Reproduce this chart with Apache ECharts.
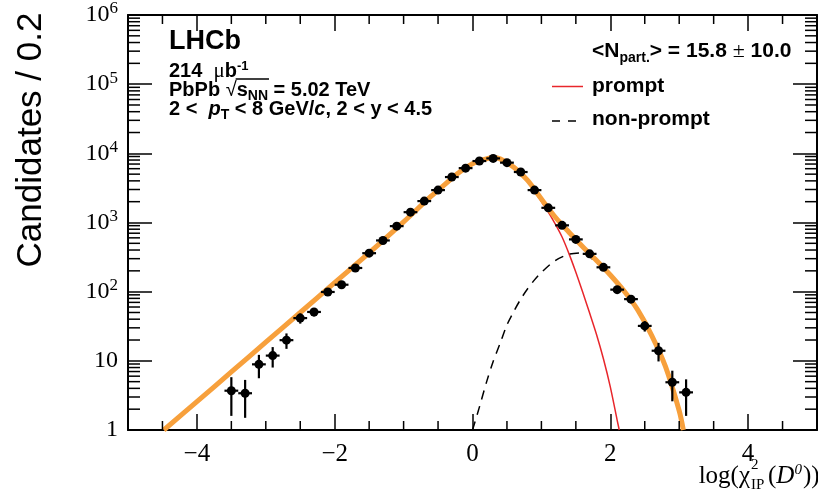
<!DOCTYPE html>
<html>
<head>
<meta charset="utf-8">
<script src="https://cdn.jsdelivr.net/npm/echarts@6.0.0/dist/echarts.min.js"></script>
<style>
  html, body { margin: 0; padding: 0; background: #fff; }
  #chart { width: 818px; height: 492px; }
</style>
</head>
<body>
<div id="chart"></div>
<script>
// data points, bins of width 0.2
const binCenters = [-3.5, -3.3, -3.1, -2.9, -2.7, -2.5, -2.3, -2.1, -1.9, -1.7, -1.5, -1.3, -1.1, -0.9, -0.7, -0.5, -0.3, -0.1,
  0.1, 0.3, 0.5, 0.7, 0.9, 1.1, 1.3, 1.5, 1.7, 1.9, 2.1, 2.3, 2.5, 2.7, 2.9, 3.1];
const counts = [3.7, 3.4, 8.9, 11.9, 19.9, 41.5, 50.9, 99, 126, 220, 360, 550, 886, 1410, 2040, 2940, 4540, 6110,
  7740, 8450, 7330, 5370, 2940, 1630, 910, 570, 352, 225, 107, 78, 32, 14, 4.9, 3.5];
const countErrors = [2.1, 1.9, 3.3, 3.9, 5.0, 7.0, 7.0, 11, 12, 16, 21, 26, 33, 42, 50, 60, 74, 86,
  97, 101, 94, 80, 60, 44, 33, 26, 20, 16, 11, 9.5, 5.5, 4.2, 2.3, 1.9];

// fit curves
const totalX = [-4.48, -4.0, -3.5, -3.0, -2.5, -2.0, -1.5, -1.0, -0.6, -0.4, -0.2, 0.0, 0.2, 0.3, 0.4, 0.6, 0.8, 1.0,
  1.2, 1.4, 1.6, 1.8, 2.0, 2.2, 2.4, 2.6, 2.8, 3.0, 3.06];
const totalY = [1.0, 2.57, 6.9, 18.6, 50, 135, 363, 1020, 2400, 3550, 5250, 7080, 8320, 8600, 8320, 6310, 4070, 2190,
  1200, 724, 447, 282, 174, 102, 54, 23.4, 8.3, 1.9, 1.0];

const promptX = [-4.48, -4.0, -3.5, -3.0, -2.5, -2.0, -1.5, -1.0, -0.6, -0.4, -0.2, 0.0, 0.2, 0.3, 0.4, 0.6, 0.8, 1.0,
  1.1, 1.2, 1.3, 1.4, 1.5, 1.6, 1.7, 1.8, 1.9, 2.0, 2.1, 2.13];
const promptY = [1.0, 2.57, 6.9, 18.6, 50, 135, 363, 1020, 2400, 3540, 5220, 7030, 8230, 8490, 8130, 6260, 3960, 2000,
  1413, 955, 617, 355, 191, 98, 49, 24, 10.7, 4.2, 1.38, 1.0];

const nonPromptX = [0.0, 0.1, 0.2, 0.3, 0.4, 0.5, 0.6, 0.7, 0.8, 0.9, 1.0, 1.2, 1.4, 1.6, 1.8, 2.0, 2.2, 2.4, 2.6, 2.8, 3.0, 3.06];
const nonPromptY = [1.0, 2.14, 4.8, 9.8, 17.8, 33, 52, 78, 110, 148, 190, 282, 347, 363, 259, 169, 101, 54, 23.4, 8.3, 1.9, 1.0];

const xMajorTicks = [-4, -2, 0, 2, 4];
const xMinorTicks = [];
for (let k = -9; k <= 9; k++) {
  if (k % 4 !== 0) xMinorTicks.push(k / 2);
}
const yMajorTicks = [1, 10, 100, 1000, 10000, 100000, 1000000];
const yMinorTicks = [];
for (let d = 1; d < 1e6; d *= 10) {
  for (let k = 2; k <= 9; k++) yMinorTicks.push(k * d);
}

const SANS = '"Liberation Sans", Arial, sans-serif';
const SERIF = '"Liberation Serif", "Times New Roman", serif';

const pairs = (xs, ys) => xs.map((x, i) => [x, ys[i]]);

// text width helper, used to put the bar over s_NN
const ctx = document.createElement('canvas').getContext('2d');
function textW(str, font) { ctx.font = font; return ctx.measureText(str).width; }

function xAxisDef(pos) {
  return {
    type: 'value', min: -5, max: 5, interval: 0.5, position: pos,
    axisLine: { show: true, onZero: false, lineStyle: { color: '#000', width: 2 } },
    axisTick: { show: true, inside: true, length: 16, customValues: xMajorTicks, lineStyle: { color: '#000', width: 1.5 } },
    axisLabel: {
      show: pos === 'bottom',
      customValues: xMajorTicks,
      margin: 12,
      color: '#000', fontFamily: SERIF, fontSize: 25,
      formatter: v => (v < 0 ? '\u2212' + (-v) : String(v))
    },
    splitLine: { show: false }
  };
}

function yAxisDef(pos) {
  return {
    type: 'log', logBase: 10, min: 1, max: 1e6, position: pos,
    axisLine: { show: true, onZero: false, lineStyle: { color: '#000', width: 2 } },
    axisTick: { show: true, inside: true, length: 24, customValues: yMajorTicks, lineStyle: { color: '#000', width: 1.5 } },
    axisLabel: {
      show: pos === 'left',
      customValues: yMajorTicks,
      margin: 10,
      color: '#000',
      formatter: v => {
        const n = Math.round(Math.log10(v));
        if (n === 0) return '{b|1}';
        if (n === 1) return '{b|10}';
        return '{b|10}{s|' + n + '}';
      },
      rich: {
        b: { fontFamily: SERIF, fontSize: 24, color: '#000' },
        s: { fontFamily: SERIF, fontSize: 17, color: '#000', padding: [0, 0, 12, 0] }
      }
    },
    splitLine: { show: false }
  };
}

const tickStyle = { stroke: '#000', lineWidth: 1.5 };

const chart = echarts.init(document.getElementById('chart'));

const FS = 20;
const bL = { fontFamily: SANS, fontSize: FS, fontWeight: 'bold', fill: '#000' };
const bR = { fontFamily: SANS, fontSize: 21, fontWeight: 'bold', fill: '#000' };
const sub14 = { fontFamily: SANS, fontSize: 14, fontWeight: 'bold', fill: '#000', padding: [13, 0, 0, 0] };

// bar over s_NN
const boldFont = 'bold ' + FS + 'px ' + SANS;
const sqrtX = 169 + textW('PbPb ', boldFont);
const barX1 = sqrtX + textW('\u221a', FS + 'px ' + SANS) - 1;
const barX2 = barX1 + 1 + textW('s', boldFont) + textW('NN', 'bold 14px ' + SANS) + 1;

const option = {
  animation: false,
  backgroundColor: '#fff',
  grid: { left: 128, right: 1, top: 15, bottom: 62, outerBoundsMode: 'none' },
  xAxis: [xAxisDef('bottom'), xAxisDef('top')],
  yAxis: [yAxisDef('left'), yAxisDef('right')],
  series: [
    {
      name: 'prompt', type: 'line', xAxisIndex: 0, yAxisIndex: 0,
      data: pairs(promptX, promptY), smooth: 0.3, symbol: 'none', clip: true,
      lineStyle: { color: '#e8262b', width: 1.5 }, z: 2
    },
    {
      name: 'non-prompt', type: 'line', xAxisIndex: 0, yAxisIndex: 0,
      data: pairs(nonPromptX, nonPromptY), smooth: 0.3, symbol: 'none', clip: true,
      lineStyle: { color: '#000', width: 1.5, type: [9, 7] }, z: 2
    },
    {
      name: 'total', type: 'line', xAxisIndex: 0, yAxisIndex: 0,
      data: pairs(totalX, totalY), smooth: 0.3, symbol: 'none', clip: true,
      lineStyle: { color: '#f7a03c', width: 5 }, z: 3
    },
    {
      name: 'data', type: 'custom', xAxisIndex: 0, yAxisIndex: 0, z: 4, clip: true,
      data: binCenters.map((x, i) => [x, counts[i], countErrors[i]]),
      renderItem: (params, api) => {
        const x = api.value(0), y = api.value(1), e = api.value(2);
        const c = api.coord([x, y]);
        const l = api.coord([x - 0.1, y]);
        const r = api.coord([x + 0.1, y]);
        const hi = api.coord([x, y + e]);
        const lo = api.coord([x, Math.max(y - e, 1)]);
        const st = { stroke: '#000', lineWidth: 2.2 };
        return {
          type: 'group',
          children: [
            { type: 'line', shape: { x1: l[0], y1: l[1], x2: r[0], y2: r[1] }, style: st },
            { type: 'line', shape: { x1: hi[0], y1: hi[1], x2: lo[0], y2: lo[1] }, style: st },
            { type: 'circle', shape: { cx: c[0], cy: c[1], r: 4.5 }, style: { fill: '#000' } }
          ]
        };
      }
    },
    // short ticks on the frame (bottom + top)
    {
      name: 'xMinor', type: 'custom', xAxisIndex: 0, yAxisIndex: 0, z: 5, clip: false, silent: true,
      data: xMinorTicks.map(v => [v, 1]),
      renderItem: (params, api) => {
        const cs = params.coordSys;
        const px = api.coord([api.value(0), 1])[0];
        const bottom = cs.y + cs.height, top = cs.y;
        return {
          type: 'group',
          children: [
            { type: 'line', shape: { x1: px, y1: bottom, x2: px, y2: bottom - 9 }, style: tickStyle },
            { type: 'line', shape: { x1: px, y1: top, x2: px, y2: top + 9 }, style: tickStyle }
          ]
        };
      }
    },
    // short ticks on the frame (left + right)
    {
      name: 'yMinor', type: 'custom', xAxisIndex: 0, yAxisIndex: 0, z: 5, clip: false, silent: true,
      data: yMinorTicks.map(v => [-5, v]),
      renderItem: (params, api) => {
        const cs = params.coordSys;
        const py = api.coord([-5, api.value(1)])[1];
        const left = cs.x, right = cs.x + cs.width;
        return {
          type: 'group',
          children: [
            { type: 'line', shape: { x1: left, y1: py, x2: left + 12, y2: py }, style: tickStyle },
            { type: 'line', shape: { x1: right, y1: py, x2: right - 12, y2: py }, style: tickStyle }
          ]
        };
      }
    }
  ],
  graphic: [
    // y axis title
    {
      type: 'text', x: 31, y: 140, rotation: Math.PI / 2,
      style: { text: 'Candidates / 0.2', fontFamily: SANS, fontSize: 35, fill: '#000', align: 'center', verticalAlign: 'middle' }
    },
    // x axis title
    {
      type: 'text', x: 750, y: 476,
      style: { text: 'log(\u03c7', fontFamily: SERIF, fontSize: 25, fill: '#000', align: 'right', verticalAlign: 'middle' }
    },
    {
      type: 'text', x: 751, y: 465,
      style: { text: '2', fontFamily: SERIF, fontSize: 15, fill: '#000', align: 'left', verticalAlign: 'middle' }
    },
    {
      type: 'text', x: 751, y: 485,
      style: { text: 'IP', fontFamily: SERIF, fontSize: 15, fill: '#000', align: 'left', verticalAlign: 'middle' }
    },
    {
      type: 'text', x: 768, y: 476,
      style: {
        text: '{n|(}{i|D}{s|0}{n|))}', align: 'left', verticalAlign: 'middle',
        rich: {
          n: { fontFamily: SERIF, fontSize: 25, fill: '#000' },
          i: { fontFamily: SERIF, fontSize: 25, fontStyle: 'italic', fill: '#000' },
          s: { fontFamily: SERIF, fontSize: 15, fontStyle: 'italic', fill: '#000', padding: [0, 1, 12, 0] }
        }
      }
    },
    // LHCb labels
    {
      type: 'text', x: 169, y: 42,
      style: { text: 'LHCb', fontFamily: SANS, fontSize: 27, fontWeight: 'bold', fill: '#000', align: 'left', verticalAlign: 'middle' }
    },
    {
      type: 'text', x: 169, y: 71.5,
      style: {
        text: '{b|214  }{m|\u03bc}{b|b}{s|-1}', align: 'left', verticalAlign: 'middle',
        rich: {
          b: bL,
          m: { fontFamily: SERIF, fontSize: 21, fill: '#000' },
          s: { fontFamily: SANS, fontSize: 13, fontWeight: 'bold', fill: '#000', padding: [0, 0, 11, 0] }
        }
      }
    },
    {
      type: 'text', x: 169, y: 90,
      style: {
        text: '{b|PbPb }{r|\u221a}{b|s}{sub|NN}{b| = 5.02 TeV}', align: 'left', verticalAlign: 'middle',
        rich: {
          b: bL,
          r: { fontFamily: SANS, fontSize: FS, fill: '#000' },
          sub: sub14
        }
      }
    },
    {
      type: 'line', shape: { x1: barX1, y1: 79, x2: barX2, y2: 79 }, style: { stroke: '#000', lineWidth: 1.3 }
    },
    {
      type: 'text', x: 169, y: 109,
      style: {
        text: '{b|2 <  }{i|p}{sub|T}{b| < 8 GeV/}{i|c}{b|, 2 < y < 4.5}', align: 'left', verticalAlign: 'middle',
        rich: {
          b: bL,
          i: { fontFamily: SANS, fontSize: FS, fontWeight: 'bold', fontStyle: 'italic', fill: '#000' },
          sub: sub14
        }
      }
    },
    // centrality + legend
    {
      type: 'text', x: 592, y: 51.5,
      style: {
        text: '{b|<N}{sub|part.}{b|> = 15.8 }{m|\u00b1}{b| 10.0}', align: 'left', verticalAlign: 'middle',
        rich: {
          b: bR,
          m: { fontFamily: SERIF, fontSize: 22, fill: '#000' },
          sub: sub14
        }
      }
    },
    {
      type: 'line', shape: { x1: 552, y1: 86.5, x2: 583, y2: 86.5 }, style: { stroke: '#e8262b', lineWidth: 1.5 }
    },
    {
      type: 'text', x: 592, y: 86,
      style: { text: 'prompt', fontFamily: SANS, fontSize: 21, fontWeight: 'bold', fill: '#000', align: 'left', verticalAlign: 'middle' }
    },
    {
      type: 'line', shape: { x1: 552, y1: 121, x2: 583, y2: 121 }, style: { stroke: '#000', lineWidth: 1.5, lineDash: [8, 8] }
    },
    {
      type: 'text', x: 592, y: 119,
      style: { text: 'non-prompt', fontFamily: SANS, fontSize: 21, fontWeight: 'bold', fill: '#000', align: 'left', verticalAlign: 'middle' }
    }
  ]
};

chart.setOption(option);
</script>
</body>
</html>
